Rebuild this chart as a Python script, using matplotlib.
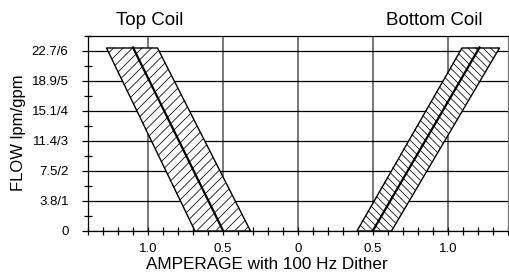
"""Solenoid coil flow vs. amperage chart (top and bottom coil bands)."""

import matplotlib

matplotlib.use("Agg")

import matplotlib.pyplot as plt
import numpy as np
from matplotlib.collections import LineCollection
from matplotlib.transforms import IdentityTransform
from matplotlib.ticker import FixedLocator, MultipleLocator

plt.rcParams["font.family"] = ["Liberation Sans", "DejaVu Sans"]

# flow levels (gpm) at which the bands are read
flow = [0.0, 6.1]

# amperage (A), top coil drawn on the left side
top_coil_min = [0.32, 0.94]
top_coil_max = [0.69, 1.28]
top_coil_nominal = [0.50, 1.10]

bottom_coil_min = [0.39, 1.09]
bottom_coil_max = [0.62, 1.34]
bottom_coil_nominal = [0.50, 1.21]

flow_ticks = [0, 1, 2, 3, 4, 5, 6]
flow_labels = ["0", "3.8/1", "7.5/2", "11.4/3", "15.1/4", "18.9/5", "22.7/6"]
amp_ticks = [-1.0, -0.5, 0.0, 0.5, 1.0]
amp_labels = ["1.0", "0.5", "0", "0.5", "1.0"]


def draw_band(ax, lo, hi, nominal, spacing_px, slope):
    band = ax.fill_betweenx(flow, lo, hi, facecolor="white", edgecolor="black",
                            linewidth=1.0, zorder=3)
    # diagonal hatching at a fixed pixel pitch, clipped to the band outline
    x0, y0, x1, y1 = ax.bbox.extents
    h = y1 - y0
    offsets = np.arange(x0 - h, x1 + h, spacing_px)
    segments = [[(o, y0), (o + slope * h, y1)] for o in offsets]
    hatch = LineCollection(segments, colors="black", linewidths=0.55,
                           transform=IdentityTransform(), zorder=3.5)
    hatch.set_clip_path(band.get_paths()[0], ax.transData)
    ax.add_collection(hatch, autolim=False)
    ax.plot(nominal, flow, color="black", linewidth=1.6, zorder=4)


fig = plt.figure(figsize=(5.10, 2.75), dpi=100)
ax = fig.add_axes([88 / 510, 44.5 / 275, 420 / 510, 195 / 275])
ax.set_xlim(-1.4, 1.4)
ax.set_ylim(0, 6.5)

draw_band(ax, -np.array(top_coil_min), -np.array(top_coil_max),
          -np.array(top_coil_nominal), 9.5, 1)
draw_band(ax, bottom_coil_min, bottom_coil_max, bottom_coil_nominal, 7.5, -1)

ax.xaxis.set_major_locator(FixedLocator(amp_ticks))
ax.set_xticklabels(amp_labels)
ax.xaxis.set_minor_locator(MultipleLocator(0.1))
ax.yaxis.set_major_locator(FixedLocator(flow_ticks))
ax.set_yticklabels(flow_labels)
ax.yaxis.set_minor_locator(MultipleLocator(0.5))

ax.tick_params(axis="x", which="both", direction="inout", length=6,
               width=0.9, labelsize=9.5, pad=6)
ax.tick_params(axis="y", which="major", direction="out", length=4,
               width=0.9, labelsize=9.5, pad=10)
ax.tick_params(axis="y", which="minor", direction="inout", length=6, width=0.9)

ax.grid(True, axis="x", which="major", color="#777777", linewidth=1.4, zorder=1)
ax.grid(True, axis="y", which="major", color="black", linewidth=0.9, zorder=1)
ax.set_axisbelow(True)

for spine in ax.spines.values():
    spine.set_linewidth(0.9)
ax.spines["right"].set_color("#777777")

ax.set_xlabel("AMPERAGE with 100 Hz Dither", fontsize=12.3, labelpad=2)
ax.xaxis.set_label_coords(0.426, -0.135)
ax.set_ylabel("FLOW lpm/gpm", fontsize=12, labelpad=4)

ax.text(-0.99, 1.055, "Top Coil", transform=ax.get_xaxis_transform(),
        ha="center", va="baseline", fontsize=13.5)
ax.text(0.91, 1.055, "Bottom Coil", transform=ax.get_xaxis_transform(),
        ha="center", va="baseline", fontsize=13.5)

fig.savefig("out.png", dpi=100)
